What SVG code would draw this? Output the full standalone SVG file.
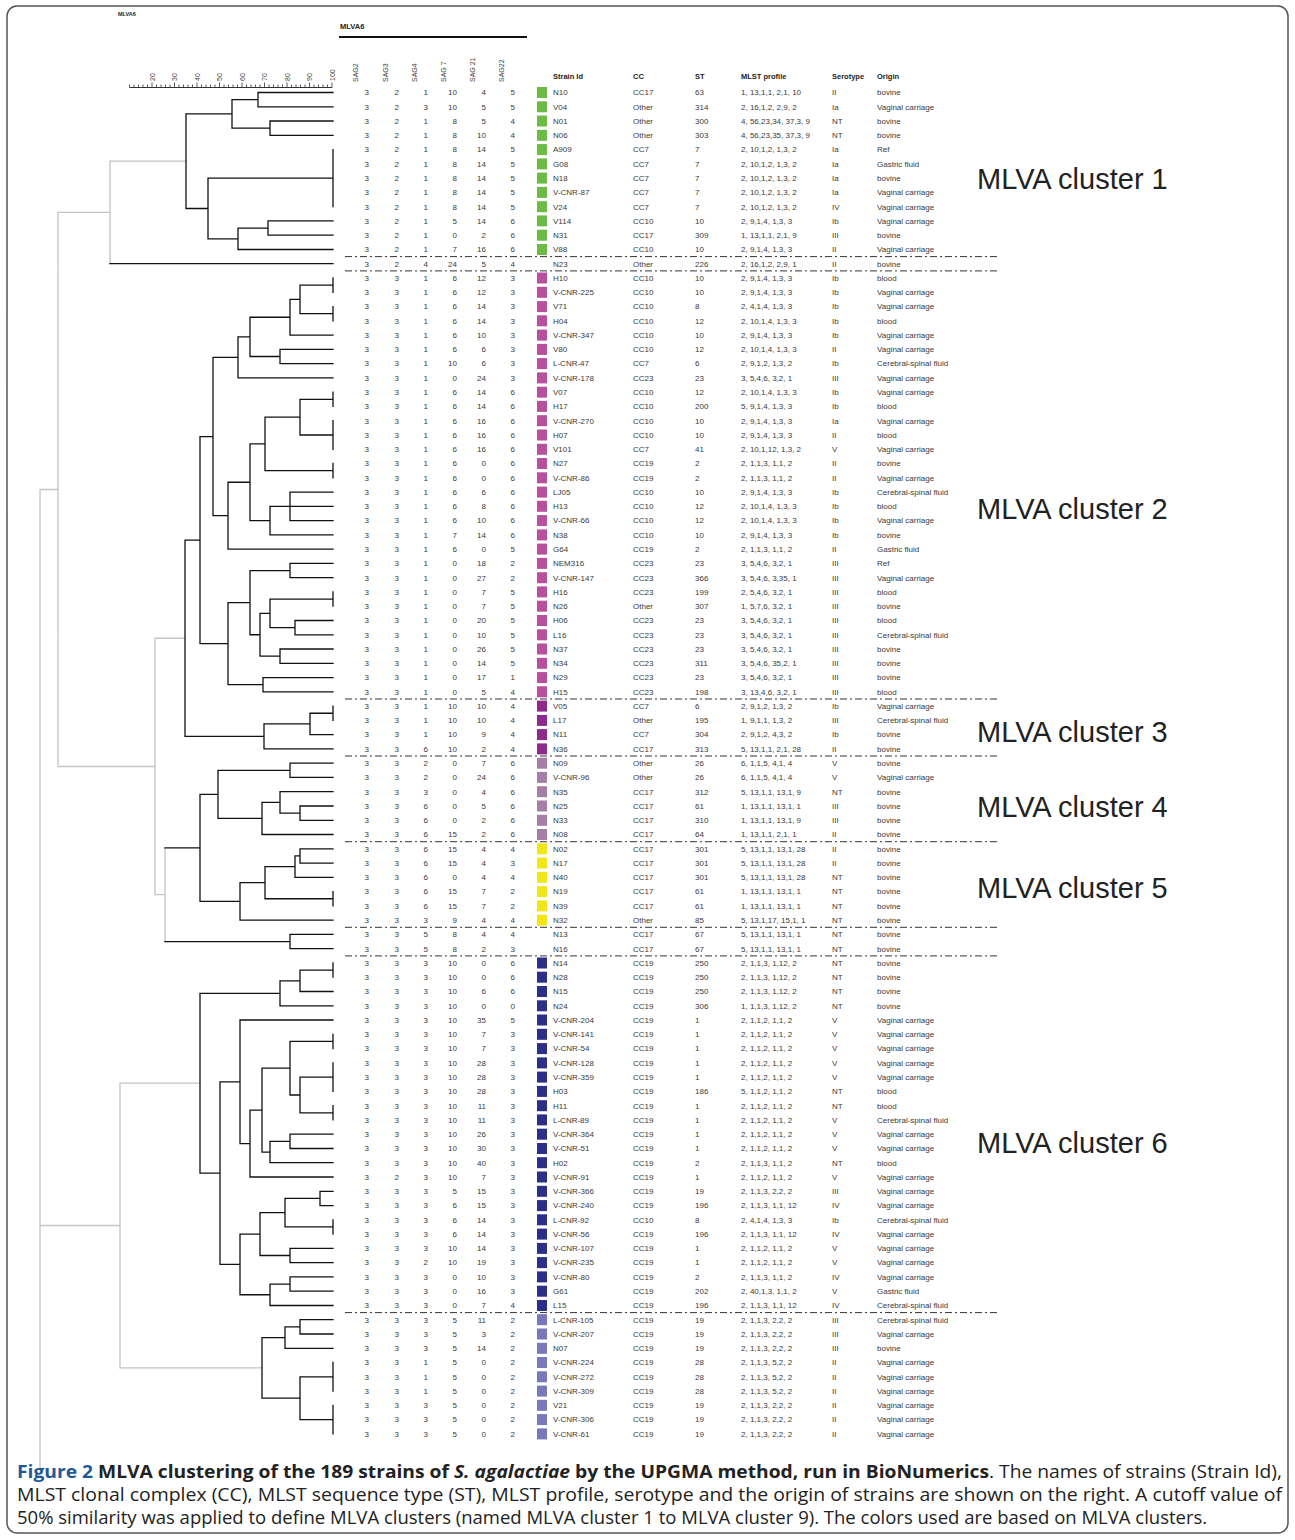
<svg xmlns="http://www.w3.org/2000/svg" width="1295" height="1540" viewBox="0 0 1295 1540">
<style>
.v{font-family:"Liberation Sans",Arial,sans-serif;font-size:8px;fill:#3a3a3a;text-anchor:end}
.d{font-family:"Liberation Sans",Arial,sans-serif;font-size:8px;fill:#3a3a3a}
.h{font-family:"Liberation Sans",Arial,sans-serif;font-size:7.5px;font-weight:bold;fill:#222}
.rh{font-family:"Liberation Sans",Arial,sans-serif;font-size:7px;fill:#444}
.ax{font-family:"Liberation Sans",Arial,sans-serif;font-size:7px;fill:#444}
.cl{font-family:"Liberation Sans",Arial,sans-serif;font-size:29px;fill:#222}
.cap{font-family:"Open Sans","Liberation Sans",sans-serif;font-size:18.5px;fill:#222}
.capb{font-weight:bold}
.c1{fill:#6cbb45}.c2{fill:#b8509e}.c3{fill:#8e2a8c}.c4{fill:#a57fa6}.c5{fill:#f1e618}.c6{fill:#2b2f88}.c7{fill:#7779bb}
.sep{stroke:#333;stroke-width:1;stroke-dasharray:7 3 2 3;fill:none}
.tb{stroke:#111;stroke-width:1.3;fill:none;stroke-linecap:square}
.tg{stroke:#c4c4c4;stroke-width:1.3;fill:none;stroke-linecap:square}
</style>
<rect x="7" y="6" width="1281" height="1527" rx="10" fill="none" stroke="#555" stroke-width="1.5"/>
<g id="header">
<text class="h" x="118" y="16" style="font-size:5.5px">MLVA6</text>
<text class="h" x="340" y="29">MLVA6</text>
<line x1="339" y1="37" x2="527" y2="37" stroke="#111" stroke-width="2"/>
<text class="rh" transform="translate(357.5,82) rotate(-90)">SAG2</text>
<text class="rh" transform="translate(387.5,82) rotate(-90)">SAG3</text>
<text class="rh" transform="translate(416.5,82) rotate(-90)">SAG4</text>
<text class="rh" transform="translate(445.5,82) rotate(-90)">SAG 7</text>
<text class="rh" transform="translate(474.5,82) rotate(-90)">SAG 21</text>
<text class="rh" transform="translate(503.5,82) rotate(-90)">SAG22</text>
<text class="h"><tspan x="553" y="79">Strain Id</tspan><tspan x="633" y="79">CC</tspan><tspan x="695" y="79">ST</tspan><tspan x="741" y="79">MLST profile</tspan><tspan x="832" y="79">Serotype</tspan><tspan x="877" y="79">Origin</tspan></text>
</g>
<g id="scale">
<path d="M129.5 87.5H332" stroke="#333" stroke-width="1" fill="none"/>
<path d="M129.5 87.5v-3M134 87.5v-3M138.5 87.5v-3M143 87.5v-3M147.5 87.5v-3M152 87.5v-5M156.5 87.5v-3M161 87.5v-3M165.5 87.5v-3M170 87.5v-3M174.5 87.5v-5M179 87.5v-3M183.5 87.5v-3M188 87.5v-3M192.5 87.5v-3M197 87.5v-5M201.5 87.5v-3M206 87.5v-3M210.5 87.5v-3M215 87.5v-3M219.5 87.5v-5M224 87.5v-3M228.5 87.5v-3M233 87.5v-3M237.5 87.5v-3M242 87.5v-5M246.5 87.5v-3M251 87.5v-3M255.5 87.5v-3M260 87.5v-3M264.5 87.5v-5M269 87.5v-3M273.5 87.5v-3M278 87.5v-3M282.5 87.5v-3M287 87.5v-5M291.5 87.5v-3M296 87.5v-3M300.5 87.5v-3M305 87.5v-3M309.5 87.5v-5M314 87.5v-3M318.5 87.5v-3M323 87.5v-3M327.5 87.5v-3M332 87.5v-5" stroke="#333" stroke-width="0.8" fill="none"/>
<text class="ax" transform="translate(154.5,81) rotate(-90)">20</text>
<text class="ax" transform="translate(177,81) rotate(-90)">30</text>
<text class="ax" transform="translate(199.5,81) rotate(-90)">40</text>
<text class="ax" transform="translate(222,81) rotate(-90)">50</text>
<text class="ax" transform="translate(244.5,81) rotate(-90)">60</text>
<text class="ax" transform="translate(267,81) rotate(-90)">70</text>
<text class="ax" transform="translate(289.5,81) rotate(-90)">80</text>
<text class="ax" transform="translate(312,81) rotate(-90)">90</text>
<text class="ax" transform="translate(334.5,81) rotate(-90)">100</text>
</g>
<g id="connectors">
<path class="tg" d="M110 161.2V263.7 M110 161.2H186 M155 638.25V894.7 M155 638.25H185 M155 894.7H165 M165 847.9V941.55 M58 212.45V766.5 M58 212.45H110 M58 766.5H155 M120 1083.2V1367.9 M120 1083.2H200 M120 1367.9H262 M40 489.5V1470 M40 489.5H58 M40 1225.5H120"/>
<path class="tb" d="M110 263.7H333
M258 92.5H333 M258 106.8H333 M258 92.5V106.8 M232 99.65H258
M270 121H333 M270 135.3H333 M270 121V135.3 M232 128.15H270
M232 99.65V128.15 M186 113.9H232
M333 149.6V206.7 M208 178.15H333
M268 220.9H333 M268 235.2H333 M268 220.9V235.2 M238 228.05H268
M238 249.5H333 M238 228.05V249.5 M208 238.8H238
M208 178.15V238.8 M186 208.5H208 M186 113.9V208.5
M333 278V292.3 M300 285.15H333 M333 306.6V320.8 M300 313.7H333
M300 285.15V313.7 M290 299.4H300 M290 299.4V335.1 M290 335.1H333 M250 317.25H290
M280 349.4V363.6 M280 349.4H333 M280 363.6H333 M250 356.5H280
M250 317.25V356.5 M238 336.9H250 M238 336.9V377.9 M238 377.9H333 M213 357.4H238
M333 392.2V406.4 M300 399.3H333 M333 420.7V449.3 M300 435H333
M300 399.3V435 M265 417.15H300 M333 463.5V477.8 M265 470.65H333
M265 417.15V470.65 M250 443.9H265
M290 492.1V520.6 M290 492.1H333 M290 506.3H333 M290 520.6H333 M270 506.35H290
M270 506.35V534.9 M270 534.9H333 M250 520.6H270
M250 443.9V520.6 M228 482.25H250 M228 482.25V549.1 M228 549.1H333 M213 515.7H228
M213 357.4V515.7 M200 436.55H213
M290 563.4V577.7 M290 563.4H333 M290 577.7H333 M250 570.55H290
M333 591.9V606.2 M270 599.05H333 M295 620.5V634.8 M295 620.5H333 M295 634.8H333 M270 627.65H295
M270 599.05V627.65 M260 613.35H270 M280 649V663.3 M280 649H333 M280 663.3H333 M260 656.15H280
M260 613.35V656.15 M250 634.75H260 M250 570.55V634.75 M228 602.65H250
M263 677.6V691.8 M263 677.6H333 M263 691.8H333 M228 684.7H263
M228 602.65V684.7 M200 643.7H228 M200 436.55V643.7 M185 540.1H200
M333 706.1V720.4 M310 713.25H333 M310 713.25V734.6 M310 734.6H333 M264 723.9H310
M264 723.9V748.9 M264 748.9H333 M185 736.4H264 M185 540.1V736.4
M290 763.2V777.4 M290 763.2H333 M290 777.4H333 M218 770.3H290
M300 806V820.3 M300 806H333 M300 820.3H333 M280 813.15H300
M280 791.7V813.15 M280 791.7H333 M262 802.4H280 M262 802.4V834.5 M262 834.5H333 M218 818.45H262
M218 770.3V818.45 M200 794.4H218
M300 848.8V863.1 M300 848.8H333 M300 863.1H333 M295 855.95H300 M295 855.95V877.3 M295 877.3H333 M265 866.6H295
M333 891.6V905.9 M265 898.75H333 M265 866.6V898.75 M240 882.7H265 M240 882.7V920.2 M240 920.2H333 M200 901.45H240
M200 794.4V901.45 M165 847.9H200
M290 934.4V948.7 M290 934.4H333 M290 948.7H333 M165 941.55H290
M333 963V977.2 M300 970.1H333 M300 970.1V991.5 M300 991.5H333 M280 980.8H300
M280 980.8V1005.8 M280 1005.8H333 M200 993.3H280
M333 1034.3V1048.6 M290 1041.45H333 M333 1062.9V1091.4 M300 1077.15H333 M333 1105.7V1119.9 M300 1112.8H333
M300 1077.15V1112.8 M290 1095H300 M290 1041.45V1095 M262 1068.2H290
M290 1134.2V1148.5 M290 1134.2H333 M290 1148.5H333 M270 1141.35H290 M270 1141.35V1162.7 M270 1162.7H333 M262 1152.05H270
M262 1068.2V1152.05 M250 1110.1H262 M250 1110.1V1177 M250 1177H333 M240 1143.55H250
M240 1020V1143.55 M240 1020H333 M220 1081.8H240
M320 1191.3V1205.6 M320 1191.3H333 M320 1205.6H333 M285 1198.45H320 M333 1219.8V1234.1 M285 1226.95H333
M285 1198.45V1226.95 M260 1212.7H285 M290 1248.4V1262.6 M290 1248.4H333 M290 1262.6H333 M260 1255.5H290
M260 1212.7V1255.5 M240 1234.1H260 M290 1276.9V1291.2 M290 1276.9H333 M290 1291.2H333 M270 1284.05H290
M270 1284.05V1305.5 M270 1305.5H333 M240 1294.75H270 M240 1234.1V1294.75 M220 1264.4H240
M220 1081.8V1264.4 M200 1173.1H220 M200 993.3V1173.1
M300 1319.7V1334 M300 1319.7H333 M300 1334H333 M285 1326.85H300 M285 1326.85V1348.3 M285 1348.3H333 M262 1337.6H285
M333 1362.5V1391.1 M300 1376.8H333 M333 1405.3V1433.9 M300 1419.6H333 M300 1376.8V1419.6 M262 1398.2H300
M262 1337.6V1398.2"/>
<path class="sep" d="M345 256.6H1000 M345 270.9H1000 M345 699H1000 M345 756H1000 M345 841.7H1000 M345 927.3H1000 M345 955.9H1000 M345 1312.6H1000"/>
</g>
<g id="clusters">
<text class="cl" x="977" y="189">MLVA cluster 1</text>
<text class="cl" x="977" y="519">MLVA cluster 2</text>
<text class="cl" x="977" y="742">MLVA cluster 3</text>
<text class="cl" x="977" y="817">MLVA cluster 4</text>
<text class="cl" x="977" y="898">MLVA cluster 5</text>
<text class="cl" x="977" y="1153">MLVA cluster 6</text>
</g>
<g id="rows">
<g id="row-N10" transform="translate(0,92.5)"><rect class="c1" x="537" y="-5.5" width="10" height="11"/><text class="v" y="2.8"><tspan x="369">3</tspan><tspan x="399">2</tspan><tspan x="428">1</tspan><tspan x="457">10</tspan><tspan x="486">4</tspan><tspan x="515">5</tspan></text><text class="d" y="2.8"><tspan x="553">N10</tspan><tspan x="633">CC17</tspan><tspan x="695">63</tspan><tspan x="741">1, 13,1,1, 2,1, 10</tspan><tspan x="832">II</tspan><tspan x="877">bovine</tspan></text></g>
<g id="row-V04" transform="translate(0,106.8)"><rect class="c1" x="537" y="-5.5" width="10" height="11"/><text class="v" y="2.8"><tspan x="369">3</tspan><tspan x="399">2</tspan><tspan x="428">3</tspan><tspan x="457">10</tspan><tspan x="486">5</tspan><tspan x="515">5</tspan></text><text class="d" y="2.8"><tspan x="553">V04</tspan><tspan x="633">Other</tspan><tspan x="695">314</tspan><tspan x="741">2, 16,1,2, 2,9, 2</tspan><tspan x="832">Ia</tspan><tspan x="877">Vaginal carriage</tspan></text></g>
<g id="row-N01" transform="translate(0,121)"><rect class="c1" x="537" y="-5.5" width="10" height="11"/><text class="v" y="2.8"><tspan x="369">3</tspan><tspan x="399">2</tspan><tspan x="428">1</tspan><tspan x="457">8</tspan><tspan x="486">5</tspan><tspan x="515">4</tspan></text><text class="d" y="2.8"><tspan x="553">N01</tspan><tspan x="633">Other</tspan><tspan x="695">300</tspan><tspan x="741">4, 56,23,34, 37,3, 9</tspan><tspan x="832">NT</tspan><tspan x="877">bovine</tspan></text></g>
<g id="row-N06" transform="translate(0,135.3)"><rect class="c1" x="537" y="-5.5" width="10" height="11"/><text class="v" y="2.8"><tspan x="369">3</tspan><tspan x="399">2</tspan><tspan x="428">1</tspan><tspan x="457">8</tspan><tspan x="486">10</tspan><tspan x="515">4</tspan></text><text class="d" y="2.8"><tspan x="553">N06</tspan><tspan x="633">Other</tspan><tspan x="695">303</tspan><tspan x="741">4, 56,23,35, 37,3, 9</tspan><tspan x="832">NT</tspan><tspan x="877">bovine</tspan></text></g>
<g id="row-A909" transform="translate(0,149.6)"><rect class="c1" x="537" y="-5.5" width="10" height="11"/><text class="v" y="2.8"><tspan x="369">3</tspan><tspan x="399">2</tspan><tspan x="428">1</tspan><tspan x="457">8</tspan><tspan x="486">14</tspan><tspan x="515">5</tspan></text><text class="d" y="2.8"><tspan x="553">A909</tspan><tspan x="633">CC7</tspan><tspan x="695">7</tspan><tspan x="741">2, 10,1,2, 1,3, 2</tspan><tspan x="832">Ia</tspan><tspan x="877">Ref</tspan></text></g>
<g id="row-G08" transform="translate(0,163.9)"><rect class="c1" x="537" y="-5.5" width="10" height="11"/><text class="v" y="2.8"><tspan x="369">3</tspan><tspan x="399">2</tspan><tspan x="428">1</tspan><tspan x="457">8</tspan><tspan x="486">14</tspan><tspan x="515">5</tspan></text><text class="d" y="2.8"><tspan x="553">G08</tspan><tspan x="633">CC7</tspan><tspan x="695">7</tspan><tspan x="741">2, 10,1,2, 1,3, 2</tspan><tspan x="832">Ia</tspan><tspan x="877">Gastric fluid</tspan></text></g>
<g id="row-N18" transform="translate(0,178.1)"><rect class="c1" x="537" y="-5.5" width="10" height="11"/><text class="v" y="2.8"><tspan x="369">3</tspan><tspan x="399">2</tspan><tspan x="428">1</tspan><tspan x="457">8</tspan><tspan x="486">14</tspan><tspan x="515">5</tspan></text><text class="d" y="2.8"><tspan x="553">N18</tspan><tspan x="633">CC7</tspan><tspan x="695">7</tspan><tspan x="741">2, 10,1,2, 1,3, 2</tspan><tspan x="832">Ia</tspan><tspan x="877">bovine</tspan></text></g>
<g id="row-V-CNR-87" transform="translate(0,192.4)"><rect class="c1" x="537" y="-5.5" width="10" height="11"/><text class="v" y="2.8"><tspan x="369">3</tspan><tspan x="399">2</tspan><tspan x="428">1</tspan><tspan x="457">8</tspan><tspan x="486">14</tspan><tspan x="515">5</tspan></text><text class="d" y="2.8"><tspan x="553">V-CNR-87</tspan><tspan x="633">CC7</tspan><tspan x="695">7</tspan><tspan x="741">2, 10,1,2, 1,3, 2</tspan><tspan x="832">Ia</tspan><tspan x="877">Vaginal carriage</tspan></text></g>
<g id="row-V24" transform="translate(0,206.7)"><rect class="c1" x="537" y="-5.5" width="10" height="11"/><text class="v" y="2.8"><tspan x="369">3</tspan><tspan x="399">2</tspan><tspan x="428">1</tspan><tspan x="457">8</tspan><tspan x="486">14</tspan><tspan x="515">5</tspan></text><text class="d" y="2.8"><tspan x="553">V24</tspan><tspan x="633">CC7</tspan><tspan x="695">7</tspan><tspan x="741">2, 10,1,2, 1,3, 2</tspan><tspan x="832">IV</tspan><tspan x="877">Vaginal carriage</tspan></text></g>
<g id="row-V114" transform="translate(0,220.9)"><rect class="c1" x="537" y="-5.5" width="10" height="11"/><text class="v" y="2.8"><tspan x="369">3</tspan><tspan x="399">2</tspan><tspan x="428">1</tspan><tspan x="457">5</tspan><tspan x="486">14</tspan><tspan x="515">6</tspan></text><text class="d" y="2.8"><tspan x="553">V114</tspan><tspan x="633">CC10</tspan><tspan x="695">10</tspan><tspan x="741">2, 9,1,4, 1,3, 3</tspan><tspan x="832">Ib</tspan><tspan x="877">Vaginal carriage</tspan></text></g>
<g id="row-N31" transform="translate(0,235.2)"><rect class="c1" x="537" y="-5.5" width="10" height="11"/><text class="v" y="2.8"><tspan x="369">3</tspan><tspan x="399">2</tspan><tspan x="428">1</tspan><tspan x="457">0</tspan><tspan x="486">2</tspan><tspan x="515">6</tspan></text><text class="d" y="2.8"><tspan x="553">N31</tspan><tspan x="633">CC17</tspan><tspan x="695">309</tspan><tspan x="741">1, 13,1,1, 2,1, 9</tspan><tspan x="832">III</tspan><tspan x="877">bovine</tspan></text></g>
<g id="row-V88" transform="translate(0,249.5)"><rect class="c1" x="537" y="-5.5" width="10" height="11"/><text class="v" y="2.8"><tspan x="369">3</tspan><tspan x="399">2</tspan><tspan x="428">1</tspan><tspan x="457">7</tspan><tspan x="486">16</tspan><tspan x="515">6</tspan></text><text class="d" y="2.8"><tspan x="553">V88</tspan><tspan x="633">CC10</tspan><tspan x="695">10</tspan><tspan x="741">2, 9,1,4, 1,3, 3</tspan><tspan x="832">II</tspan><tspan x="877">Vaginal carriage</tspan></text></g>
<g id="row-N23" transform="translate(0,263.7)"><text class="v" y="2.8"><tspan x="369">3</tspan><tspan x="399">2</tspan><tspan x="428">4</tspan><tspan x="457">24</tspan><tspan x="486">5</tspan><tspan x="515">4</tspan></text><text class="d" y="2.8"><tspan x="553">N23</tspan><tspan x="633">Other</tspan><tspan x="695">226</tspan><tspan x="741">2, 16,1,2, 2,9, 1</tspan><tspan x="832">II</tspan><tspan x="877">bovine</tspan></text></g>
<g id="row-H10" transform="translate(0,278)"><rect class="c2" x="537" y="-5.5" width="10" height="11"/><text class="v" y="2.8"><tspan x="369">3</tspan><tspan x="399">3</tspan><tspan x="428">1</tspan><tspan x="457">6</tspan><tspan x="486">12</tspan><tspan x="515">3</tspan></text><text class="d" y="2.8"><tspan x="553">H10</tspan><tspan x="633">CC10</tspan><tspan x="695">10</tspan><tspan x="741">2, 9,1,4, 1,3, 3</tspan><tspan x="832">Ib</tspan><tspan x="877">blood</tspan></text></g>
<g id="row-V-CNR-225" transform="translate(0,292.3)"><rect class="c2" x="537" y="-5.5" width="10" height="11"/><text class="v" y="2.8"><tspan x="369">3</tspan><tspan x="399">3</tspan><tspan x="428">1</tspan><tspan x="457">6</tspan><tspan x="486">12</tspan><tspan x="515">3</tspan></text><text class="d" y="2.8"><tspan x="553">V-CNR-225</tspan><tspan x="633">CC10</tspan><tspan x="695">10</tspan><tspan x="741">2, 9,1,4, 1,3, 3</tspan><tspan x="832">Ib</tspan><tspan x="877">Vaginal carriage</tspan></text></g>
<g id="row-V71" transform="translate(0,306.6)"><rect class="c2" x="537" y="-5.5" width="10" height="11"/><text class="v" y="2.8"><tspan x="369">3</tspan><tspan x="399">3</tspan><tspan x="428">1</tspan><tspan x="457">6</tspan><tspan x="486">14</tspan><tspan x="515">3</tspan></text><text class="d" y="2.8"><tspan x="553">V71</tspan><tspan x="633">CC10</tspan><tspan x="695">8</tspan><tspan x="741">2, 4,1,4, 1,3, 3</tspan><tspan x="832">Ib</tspan><tspan x="877">Vaginal carriage</tspan></text></g>
<g id="row-H04" transform="translate(0,320.8)"><rect class="c2" x="537" y="-5.5" width="10" height="11"/><text class="v" y="2.8"><tspan x="369">3</tspan><tspan x="399">3</tspan><tspan x="428">1</tspan><tspan x="457">6</tspan><tspan x="486">14</tspan><tspan x="515">3</tspan></text><text class="d" y="2.8"><tspan x="553">H04</tspan><tspan x="633">CC10</tspan><tspan x="695">12</tspan><tspan x="741">2, 10,1,4, 1,3, 3</tspan><tspan x="832">Ib</tspan><tspan x="877">blood</tspan></text></g>
<g id="row-V-CNR-347" transform="translate(0,335.1)"><rect class="c2" x="537" y="-5.5" width="10" height="11"/><text class="v" y="2.8"><tspan x="369">3</tspan><tspan x="399">3</tspan><tspan x="428">1</tspan><tspan x="457">6</tspan><tspan x="486">10</tspan><tspan x="515">3</tspan></text><text class="d" y="2.8"><tspan x="553">V-CNR-347</tspan><tspan x="633">CC10</tspan><tspan x="695">10</tspan><tspan x="741">2, 9,1,4, 1,3, 3</tspan><tspan x="832">Ib</tspan><tspan x="877">Vaginal carriage</tspan></text></g>
<g id="row-V80" transform="translate(0,349.4)"><rect class="c2" x="537" y="-5.5" width="10" height="11"/><text class="v" y="2.8"><tspan x="369">3</tspan><tspan x="399">3</tspan><tspan x="428">1</tspan><tspan x="457">6</tspan><tspan x="486">6</tspan><tspan x="515">3</tspan></text><text class="d" y="2.8"><tspan x="553">V80</tspan><tspan x="633">CC10</tspan><tspan x="695">12</tspan><tspan x="741">2, 10,1,4, 1,3, 3</tspan><tspan x="832">II</tspan><tspan x="877">Vaginal carriage</tspan></text></g>
<g id="row-L-CNR-47" transform="translate(0,363.6)"><rect class="c2" x="537" y="-5.5" width="10" height="11"/><text class="v" y="2.8"><tspan x="369">3</tspan><tspan x="399">3</tspan><tspan x="428">1</tspan><tspan x="457">10</tspan><tspan x="486">6</tspan><tspan x="515">3</tspan></text><text class="d" y="2.8"><tspan x="553">L-CNR-47</tspan><tspan x="633">CC7</tspan><tspan x="695">6</tspan><tspan x="741">2, 9,1,2, 1,3, 2</tspan><tspan x="832">Ib</tspan><tspan x="877">Cerebral-spinal fluid</tspan></text></g>
<g id="row-V-CNR-178" transform="translate(0,377.9)"><rect class="c2" x="537" y="-5.5" width="10" height="11"/><text class="v" y="2.8"><tspan x="369">3</tspan><tspan x="399">3</tspan><tspan x="428">1</tspan><tspan x="457">0</tspan><tspan x="486">24</tspan><tspan x="515">3</tspan></text><text class="d" y="2.8"><tspan x="553">V-CNR-178</tspan><tspan x="633">CC23</tspan><tspan x="695">23</tspan><tspan x="741">3, 5,4,6, 3,2, 1</tspan><tspan x="832">III</tspan><tspan x="877">Vaginal carriage</tspan></text></g>
<g id="row-V07" transform="translate(0,392.2)"><rect class="c2" x="537" y="-5.5" width="10" height="11"/><text class="v" y="2.8"><tspan x="369">3</tspan><tspan x="399">3</tspan><tspan x="428">1</tspan><tspan x="457">6</tspan><tspan x="486">14</tspan><tspan x="515">6</tspan></text><text class="d" y="2.8"><tspan x="553">V07</tspan><tspan x="633">CC10</tspan><tspan x="695">12</tspan><tspan x="741">2, 10,1,4, 1,3, 3</tspan><tspan x="832">Ib</tspan><tspan x="877">Vaginal carriage</tspan></text></g>
<g id="row-H17" transform="translate(0,406.4)"><rect class="c2" x="537" y="-5.5" width="10" height="11"/><text class="v" y="2.8"><tspan x="369">3</tspan><tspan x="399">3</tspan><tspan x="428">1</tspan><tspan x="457">6</tspan><tspan x="486">14</tspan><tspan x="515">6</tspan></text><text class="d" y="2.8"><tspan x="553">H17</tspan><tspan x="633">CC10</tspan><tspan x="695">200</tspan><tspan x="741">5, 9,1,4, 1,3, 3</tspan><tspan x="832">Ib</tspan><tspan x="877">blood</tspan></text></g>
<g id="row-V-CNR-270" transform="translate(0,420.7)"><rect class="c2" x="537" y="-5.5" width="10" height="11"/><text class="v" y="2.8"><tspan x="369">3</tspan><tspan x="399">3</tspan><tspan x="428">1</tspan><tspan x="457">6</tspan><tspan x="486">16</tspan><tspan x="515">6</tspan></text><text class="d" y="2.8"><tspan x="553">V-CNR-270</tspan><tspan x="633">CC10</tspan><tspan x="695">10</tspan><tspan x="741">2, 9,1,4, 1,3, 3</tspan><tspan x="832">Ia</tspan><tspan x="877">Vaginal carriage</tspan></text></g>
<g id="row-H07" transform="translate(0,435)"><rect class="c2" x="537" y="-5.5" width="10" height="11"/><text class="v" y="2.8"><tspan x="369">3</tspan><tspan x="399">3</tspan><tspan x="428">1</tspan><tspan x="457">6</tspan><tspan x="486">16</tspan><tspan x="515">6</tspan></text><text class="d" y="2.8"><tspan x="553">H07</tspan><tspan x="633">CC10</tspan><tspan x="695">10</tspan><tspan x="741">2, 9,1,4, 1,3, 3</tspan><tspan x="832">II</tspan><tspan x="877">blood</tspan></text></g>
<g id="row-V101" transform="translate(0,449.3)"><rect class="c2" x="537" y="-5.5" width="10" height="11"/><text class="v" y="2.8"><tspan x="369">3</tspan><tspan x="399">3</tspan><tspan x="428">1</tspan><tspan x="457">6</tspan><tspan x="486">16</tspan><tspan x="515">6</tspan></text><text class="d" y="2.8"><tspan x="553">V101</tspan><tspan x="633">CC7</tspan><tspan x="695">41</tspan><tspan x="741">2, 10,1,12, 1,3, 2</tspan><tspan x="832">V</tspan><tspan x="877">Vaginal carriage</tspan></text></g>
<g id="row-N27" transform="translate(0,463.5)"><rect class="c2" x="537" y="-5.5" width="10" height="11"/><text class="v" y="2.8"><tspan x="369">3</tspan><tspan x="399">3</tspan><tspan x="428">1</tspan><tspan x="457">6</tspan><tspan x="486">0</tspan><tspan x="515">6</tspan></text><text class="d" y="2.8"><tspan x="553">N27</tspan><tspan x="633">CC19</tspan><tspan x="695">2</tspan><tspan x="741">2, 1,1,3, 1,1, 2</tspan><tspan x="832">II</tspan><tspan x="877">bovine</tspan></text></g>
<g id="row-V-CNR-86" transform="translate(0,477.8)"><rect class="c2" x="537" y="-5.5" width="10" height="11"/><text class="v" y="2.8"><tspan x="369">3</tspan><tspan x="399">3</tspan><tspan x="428">1</tspan><tspan x="457">6</tspan><tspan x="486">0</tspan><tspan x="515">6</tspan></text><text class="d" y="2.8"><tspan x="553">V-CNR-86</tspan><tspan x="633">CC19</tspan><tspan x="695">2</tspan><tspan x="741">2, 1,1,3, 1,1, 2</tspan><tspan x="832">II</tspan><tspan x="877">Vaginal carriage</tspan></text></g>
<g id="row-LJ05" transform="translate(0,492.1)"><rect class="c2" x="537" y="-5.5" width="10" height="11"/><text class="v" y="2.8"><tspan x="369">3</tspan><tspan x="399">3</tspan><tspan x="428">1</tspan><tspan x="457">6</tspan><tspan x="486">6</tspan><tspan x="515">6</tspan></text><text class="d" y="2.8"><tspan x="553">LJ05</tspan><tspan x="633">CC10</tspan><tspan x="695">10</tspan><tspan x="741">2, 9,1,4, 1,3, 3</tspan><tspan x="832">Ib</tspan><tspan x="877">Cerebral-spinal fluid</tspan></text></g>
<g id="row-H13" transform="translate(0,506.3)"><rect class="c2" x="537" y="-5.5" width="10" height="11"/><text class="v" y="2.8"><tspan x="369">3</tspan><tspan x="399">3</tspan><tspan x="428">1</tspan><tspan x="457">6</tspan><tspan x="486">8</tspan><tspan x="515">6</tspan></text><text class="d" y="2.8"><tspan x="553">H13</tspan><tspan x="633">CC10</tspan><tspan x="695">12</tspan><tspan x="741">2, 10,1,4, 1,3, 3</tspan><tspan x="832">Ib</tspan><tspan x="877">blood</tspan></text></g>
<g id="row-V-CNR-66" transform="translate(0,520.6)"><rect class="c2" x="537" y="-5.5" width="10" height="11"/><text class="v" y="2.8"><tspan x="369">3</tspan><tspan x="399">3</tspan><tspan x="428">1</tspan><tspan x="457">6</tspan><tspan x="486">10</tspan><tspan x="515">6</tspan></text><text class="d" y="2.8"><tspan x="553">V-CNR-66</tspan><tspan x="633">CC10</tspan><tspan x="695">12</tspan><tspan x="741">2, 10,1,4, 1,3, 3</tspan><tspan x="832">Ib</tspan><tspan x="877">Vaginal carriage</tspan></text></g>
<g id="row-N38" transform="translate(0,534.9)"><rect class="c2" x="537" y="-5.5" width="10" height="11"/><text class="v" y="2.8"><tspan x="369">3</tspan><tspan x="399">3</tspan><tspan x="428">1</tspan><tspan x="457">7</tspan><tspan x="486">14</tspan><tspan x="515">6</tspan></text><text class="d" y="2.8"><tspan x="553">N38</tspan><tspan x="633">CC10</tspan><tspan x="695">10</tspan><tspan x="741">2, 9,1,4, 1,3, 3</tspan><tspan x="832">Ib</tspan><tspan x="877">bovine</tspan></text></g>
<g id="row-G64" transform="translate(0,549.1)"><rect class="c2" x="537" y="-5.5" width="10" height="11"/><text class="v" y="2.8"><tspan x="369">3</tspan><tspan x="399">3</tspan><tspan x="428">1</tspan><tspan x="457">6</tspan><tspan x="486">0</tspan><tspan x="515">5</tspan></text><text class="d" y="2.8"><tspan x="553">G64</tspan><tspan x="633">CC19</tspan><tspan x="695">2</tspan><tspan x="741">2, 1,1,3, 1,1, 2</tspan><tspan x="832">II</tspan><tspan x="877">Gastric fluid</tspan></text></g>
<g id="row-NEM316" transform="translate(0,563.4)"><rect class="c2" x="537" y="-5.5" width="10" height="11"/><text class="v" y="2.8"><tspan x="369">3</tspan><tspan x="399">3</tspan><tspan x="428">1</tspan><tspan x="457">0</tspan><tspan x="486">18</tspan><tspan x="515">2</tspan></text><text class="d" y="2.8"><tspan x="553">NEM316</tspan><tspan x="633">CC23</tspan><tspan x="695">23</tspan><tspan x="741">3, 5,4,6, 3,2, 1</tspan><tspan x="832">III</tspan><tspan x="877">Ref</tspan></text></g>
<g id="row-V-CNR-147" transform="translate(0,577.7)"><rect class="c2" x="537" y="-5.5" width="10" height="11"/><text class="v" y="2.8"><tspan x="369">3</tspan><tspan x="399">3</tspan><tspan x="428">1</tspan><tspan x="457">0</tspan><tspan x="486">27</tspan><tspan x="515">2</tspan></text><text class="d" y="2.8"><tspan x="553">V-CNR-147</tspan><tspan x="633">CC23</tspan><tspan x="695">366</tspan><tspan x="741">3, 5,4,6, 3,35, 1</tspan><tspan x="832">III</tspan><tspan x="877">Vaginal carriage</tspan></text></g>
<g id="row-H16" transform="translate(0,591.9)"><rect class="c2" x="537" y="-5.5" width="10" height="11"/><text class="v" y="2.8"><tspan x="369">3</tspan><tspan x="399">3</tspan><tspan x="428">1</tspan><tspan x="457">0</tspan><tspan x="486">7</tspan><tspan x="515">5</tspan></text><text class="d" y="2.8"><tspan x="553">H16</tspan><tspan x="633">CC23</tspan><tspan x="695">199</tspan><tspan x="741">2, 5,4,6, 3,2, 1</tspan><tspan x="832">III</tspan><tspan x="877">blood</tspan></text></g>
<g id="row-N26" transform="translate(0,606.2)"><rect class="c2" x="537" y="-5.5" width="10" height="11"/><text class="v" y="2.8"><tspan x="369">3</tspan><tspan x="399">3</tspan><tspan x="428">1</tspan><tspan x="457">0</tspan><tspan x="486">7</tspan><tspan x="515">5</tspan></text><text class="d" y="2.8"><tspan x="553">N26</tspan><tspan x="633">Other</tspan><tspan x="695">307</tspan><tspan x="741">1, 5,7,6, 3,2, 1</tspan><tspan x="832">III</tspan><tspan x="877">bovine</tspan></text></g>
<g id="row-H06" transform="translate(0,620.5)"><rect class="c2" x="537" y="-5.5" width="10" height="11"/><text class="v" y="2.8"><tspan x="369">3</tspan><tspan x="399">3</tspan><tspan x="428">1</tspan><tspan x="457">0</tspan><tspan x="486">20</tspan><tspan x="515">5</tspan></text><text class="d" y="2.8"><tspan x="553">H06</tspan><tspan x="633">CC23</tspan><tspan x="695">23</tspan><tspan x="741">3, 5,4,6, 3,2, 1</tspan><tspan x="832">III</tspan><tspan x="877">blood</tspan></text></g>
<g id="row-L16" transform="translate(0,634.8)"><rect class="c2" x="537" y="-5.5" width="10" height="11"/><text class="v" y="2.8"><tspan x="369">3</tspan><tspan x="399">3</tspan><tspan x="428">1</tspan><tspan x="457">0</tspan><tspan x="486">10</tspan><tspan x="515">5</tspan></text><text class="d" y="2.8"><tspan x="553">L16</tspan><tspan x="633">CC23</tspan><tspan x="695">23</tspan><tspan x="741">3, 5,4,6, 3,2, 1</tspan><tspan x="832">III</tspan><tspan x="877">Cerebral-spinal fluid</tspan></text></g>
<g id="row-N37" transform="translate(0,649)"><rect class="c2" x="537" y="-5.5" width="10" height="11"/><text class="v" y="2.8"><tspan x="369">3</tspan><tspan x="399">3</tspan><tspan x="428">1</tspan><tspan x="457">0</tspan><tspan x="486">26</tspan><tspan x="515">5</tspan></text><text class="d" y="2.8"><tspan x="553">N37</tspan><tspan x="633">CC23</tspan><tspan x="695">23</tspan><tspan x="741">3, 5,4,6, 3,2, 1</tspan><tspan x="832">III</tspan><tspan x="877">bovine</tspan></text></g>
<g id="row-N34" transform="translate(0,663.3)"><rect class="c2" x="537" y="-5.5" width="10" height="11"/><text class="v" y="2.8"><tspan x="369">3</tspan><tspan x="399">3</tspan><tspan x="428">1</tspan><tspan x="457">0</tspan><tspan x="486">14</tspan><tspan x="515">5</tspan></text><text class="d" y="2.8"><tspan x="553">N34</tspan><tspan x="633">CC23</tspan><tspan x="695">311</tspan><tspan x="741">3, 5,4,6, 35,2, 1</tspan><tspan x="832">III</tspan><tspan x="877">bovine</tspan></text></g>
<g id="row-N29" transform="translate(0,677.6)"><rect class="c2" x="537" y="-5.5" width="10" height="11"/><text class="v" y="2.8"><tspan x="369">3</tspan><tspan x="399">3</tspan><tspan x="428">1</tspan><tspan x="457">0</tspan><tspan x="486">17</tspan><tspan x="515">1</tspan></text><text class="d" y="2.8"><tspan x="553">N29</tspan><tspan x="633">CC23</tspan><tspan x="695">23</tspan><tspan x="741">3, 5,4,6, 3,2, 1</tspan><tspan x="832">III</tspan><tspan x="877">bovine</tspan></text></g>
<g id="row-H15" transform="translate(0,691.8)"><rect class="c2" x="537" y="-5.5" width="10" height="11"/><text class="v" y="2.8"><tspan x="369">3</tspan><tspan x="399">3</tspan><tspan x="428">1</tspan><tspan x="457">0</tspan><tspan x="486">5</tspan><tspan x="515">4</tspan></text><text class="d" y="2.8"><tspan x="553">H15</tspan><tspan x="633">CC23</tspan><tspan x="695">198</tspan><tspan x="741">3, 13,4,6, 3,2, 1</tspan><tspan x="832">III</tspan><tspan x="877">blood</tspan></text></g>
<g id="row-V05" transform="translate(0,706.1)"><rect class="c3" x="537" y="-5.5" width="10" height="11"/><text class="v" y="2.8"><tspan x="369">3</tspan><tspan x="399">3</tspan><tspan x="428">1</tspan><tspan x="457">10</tspan><tspan x="486">10</tspan><tspan x="515">4</tspan></text><text class="d" y="2.8"><tspan x="553">V05</tspan><tspan x="633">CC7</tspan><tspan x="695">6</tspan><tspan x="741">2, 9,1,2, 1,3, 2</tspan><tspan x="832">Ib</tspan><tspan x="877">Vaginal carriage</tspan></text></g>
<g id="row-L17" transform="translate(0,720.4)"><rect class="c3" x="537" y="-5.5" width="10" height="11"/><text class="v" y="2.8"><tspan x="369">3</tspan><tspan x="399">3</tspan><tspan x="428">1</tspan><tspan x="457">10</tspan><tspan x="486">10</tspan><tspan x="515">4</tspan></text><text class="d" y="2.8"><tspan x="553">L17</tspan><tspan x="633">Other</tspan><tspan x="695">195</tspan><tspan x="741">1, 9,1,1, 1,3, 2</tspan><tspan x="832">III</tspan><tspan x="877">Cerebral-spinal fluid</tspan></text></g>
<g id="row-N11" transform="translate(0,734.6)"><rect class="c3" x="537" y="-5.5" width="10" height="11"/><text class="v" y="2.8"><tspan x="369">3</tspan><tspan x="399">3</tspan><tspan x="428">1</tspan><tspan x="457">10</tspan><tspan x="486">9</tspan><tspan x="515">4</tspan></text><text class="d" y="2.8"><tspan x="553">N11</tspan><tspan x="633">CC7</tspan><tspan x="695">304</tspan><tspan x="741">2, 9,1,2, 4,3, 2</tspan><tspan x="832">Ib</tspan><tspan x="877">bovine</tspan></text></g>
<g id="row-N36" transform="translate(0,748.9)"><rect class="c3" x="537" y="-5.5" width="10" height="11"/><text class="v" y="2.8"><tspan x="369">3</tspan><tspan x="399">3</tspan><tspan x="428">6</tspan><tspan x="457">10</tspan><tspan x="486">2</tspan><tspan x="515">4</tspan></text><text class="d" y="2.8"><tspan x="553">N36</tspan><tspan x="633">CC17</tspan><tspan x="695">313</tspan><tspan x="741">5, 13,1,1, 2,1, 28</tspan><tspan x="832">II</tspan><tspan x="877">bovine</tspan></text></g>
<g id="row-N09" transform="translate(0,763.2)"><rect class="c4" x="537" y="-5.5" width="10" height="11"/><text class="v" y="2.8"><tspan x="369">3</tspan><tspan x="399">3</tspan><tspan x="428">2</tspan><tspan x="457">0</tspan><tspan x="486">7</tspan><tspan x="515">6</tspan></text><text class="d" y="2.8"><tspan x="553">N09</tspan><tspan x="633">Other</tspan><tspan x="695">26</tspan><tspan x="741">6, 1,1,5, 4,1, 4</tspan><tspan x="832">V</tspan><tspan x="877">bovine</tspan></text></g>
<g id="row-V-CNR-96" transform="translate(0,777.4)"><rect class="c4" x="537" y="-5.5" width="10" height="11"/><text class="v" y="2.8"><tspan x="369">3</tspan><tspan x="399">3</tspan><tspan x="428">2</tspan><tspan x="457">0</tspan><tspan x="486">24</tspan><tspan x="515">6</tspan></text><text class="d" y="2.8"><tspan x="553">V-CNR-96</tspan><tspan x="633">Other</tspan><tspan x="695">26</tspan><tspan x="741">6, 1,1,5, 4,1, 4</tspan><tspan x="832">V</tspan><tspan x="877">Vaginal carriage</tspan></text></g>
<g id="row-N35" transform="translate(0,791.7)"><rect class="c4" x="537" y="-5.5" width="10" height="11"/><text class="v" y="2.8"><tspan x="369">3</tspan><tspan x="399">3</tspan><tspan x="428">3</tspan><tspan x="457">0</tspan><tspan x="486">4</tspan><tspan x="515">6</tspan></text><text class="d" y="2.8"><tspan x="553">N35</tspan><tspan x="633">CC17</tspan><tspan x="695">312</tspan><tspan x="741">5, 13,1,1, 13,1, 9</tspan><tspan x="832">NT</tspan><tspan x="877">bovine</tspan></text></g>
<g id="row-N25" transform="translate(0,806)"><rect class="c4" x="537" y="-5.5" width="10" height="11"/><text class="v" y="2.8"><tspan x="369">3</tspan><tspan x="399">3</tspan><tspan x="428">6</tspan><tspan x="457">0</tspan><tspan x="486">5</tspan><tspan x="515">6</tspan></text><text class="d" y="2.8"><tspan x="553">N25</tspan><tspan x="633">CC17</tspan><tspan x="695">61</tspan><tspan x="741">1, 13,1,1, 13,1, 1</tspan><tspan x="832">III</tspan><tspan x="877">bovine</tspan></text></g>
<g id="row-N33" transform="translate(0,820.3)"><rect class="c4" x="537" y="-5.5" width="10" height="11"/><text class="v" y="2.8"><tspan x="369">3</tspan><tspan x="399">3</tspan><tspan x="428">6</tspan><tspan x="457">0</tspan><tspan x="486">2</tspan><tspan x="515">6</tspan></text><text class="d" y="2.8"><tspan x="553">N33</tspan><tspan x="633">CC17</tspan><tspan x="695">310</tspan><tspan x="741">1, 13,1,1, 13,1, 9</tspan><tspan x="832">III</tspan><tspan x="877">bovine</tspan></text></g>
<g id="row-N08" transform="translate(0,834.5)"><rect class="c4" x="537" y="-5.5" width="10" height="11"/><text class="v" y="2.8"><tspan x="369">3</tspan><tspan x="399">3</tspan><tspan x="428">6</tspan><tspan x="457">15</tspan><tspan x="486">2</tspan><tspan x="515">6</tspan></text><text class="d" y="2.8"><tspan x="553">N08</tspan><tspan x="633">CC17</tspan><tspan x="695">64</tspan><tspan x="741">1, 13,1,1, 2,1, 1</tspan><tspan x="832">II</tspan><tspan x="877">bovine</tspan></text></g>
<g id="row-N02" transform="translate(0,848.8)"><rect class="c5" x="537" y="-5.5" width="10" height="11"/><text class="v" y="2.8"><tspan x="369">3</tspan><tspan x="399">3</tspan><tspan x="428">6</tspan><tspan x="457">15</tspan><tspan x="486">4</tspan><tspan x="515">4</tspan></text><text class="d" y="2.8"><tspan x="553">N02</tspan><tspan x="633">CC17</tspan><tspan x="695">301</tspan><tspan x="741">5, 13,1,1, 13,1, 28</tspan><tspan x="832">II</tspan><tspan x="877">bovine</tspan></text></g>
<g id="row-N17" transform="translate(0,863.1)"><rect class="c5" x="537" y="-5.5" width="10" height="11"/><text class="v" y="2.8"><tspan x="369">3</tspan><tspan x="399">3</tspan><tspan x="428">6</tspan><tspan x="457">15</tspan><tspan x="486">4</tspan><tspan x="515">3</tspan></text><text class="d" y="2.8"><tspan x="553">N17</tspan><tspan x="633">CC17</tspan><tspan x="695">301</tspan><tspan x="741">5, 13,1,1, 13,1, 28</tspan><tspan x="832">II</tspan><tspan x="877">bovine</tspan></text></g>
<g id="row-N40" transform="translate(0,877.3)"><rect class="c5" x="537" y="-5.5" width="10" height="11"/><text class="v" y="2.8"><tspan x="369">3</tspan><tspan x="399">3</tspan><tspan x="428">6</tspan><tspan x="457">0</tspan><tspan x="486">4</tspan><tspan x="515">4</tspan></text><text class="d" y="2.8"><tspan x="553">N40</tspan><tspan x="633">CC17</tspan><tspan x="695">301</tspan><tspan x="741">5, 13,1,1, 13,1, 28</tspan><tspan x="832">NT</tspan><tspan x="877">bovine</tspan></text></g>
<g id="row-N19" transform="translate(0,891.6)"><rect class="c5" x="537" y="-5.5" width="10" height="11"/><text class="v" y="2.8"><tspan x="369">3</tspan><tspan x="399">3</tspan><tspan x="428">6</tspan><tspan x="457">15</tspan><tspan x="486">7</tspan><tspan x="515">2</tspan></text><text class="d" y="2.8"><tspan x="553">N19</tspan><tspan x="633">CC17</tspan><tspan x="695">61</tspan><tspan x="741">1, 13,1,1, 13,1, 1</tspan><tspan x="832">NT</tspan><tspan x="877">bovine</tspan></text></g>
<g id="row-N39" transform="translate(0,905.9)"><rect class="c5" x="537" y="-5.5" width="10" height="11"/><text class="v" y="2.8"><tspan x="369">3</tspan><tspan x="399">3</tspan><tspan x="428">6</tspan><tspan x="457">15</tspan><tspan x="486">7</tspan><tspan x="515">2</tspan></text><text class="d" y="2.8"><tspan x="553">N39</tspan><tspan x="633">CC17</tspan><tspan x="695">61</tspan><tspan x="741">1, 13,1,1, 13,1, 1</tspan><tspan x="832">NT</tspan><tspan x="877">bovine</tspan></text></g>
<g id="row-N32" transform="translate(0,920.2)"><rect class="c5" x="537" y="-5.5" width="10" height="11"/><text class="v" y="2.8"><tspan x="369">3</tspan><tspan x="399">3</tspan><tspan x="428">3</tspan><tspan x="457">9</tspan><tspan x="486">4</tspan><tspan x="515">4</tspan></text><text class="d" y="2.8"><tspan x="553">N32</tspan><tspan x="633">Other</tspan><tspan x="695">85</tspan><tspan x="741">5, 13,1,17, 15,1, 1</tspan><tspan x="832">NT</tspan><tspan x="877">bovine</tspan></text></g>
<g id="row-N13" transform="translate(0,934.4)"><text class="v" y="2.8"><tspan x="369">3</tspan><tspan x="399">3</tspan><tspan x="428">5</tspan><tspan x="457">8</tspan><tspan x="486">4</tspan><tspan x="515">4</tspan></text><text class="d" y="2.8"><tspan x="553">N13</tspan><tspan x="633">CC17</tspan><tspan x="695">67</tspan><tspan x="741">5, 13,1,1, 13,1, 1</tspan><tspan x="832">NT</tspan><tspan x="877">bovine</tspan></text></g>
<g id="row-N16" transform="translate(0,948.7)"><text class="v" y="2.8"><tspan x="369">3</tspan><tspan x="399">3</tspan><tspan x="428">5</tspan><tspan x="457">8</tspan><tspan x="486">2</tspan><tspan x="515">3</tspan></text><text class="d" y="2.8"><tspan x="553">N16</tspan><tspan x="633">CC17</tspan><tspan x="695">67</tspan><tspan x="741">5, 13,1,1, 13,1, 1</tspan><tspan x="832">NT</tspan><tspan x="877">bovine</tspan></text></g>
<g id="row-N14" transform="translate(0,963)"><rect class="c6" x="537" y="-5.5" width="10" height="11"/><text class="v" y="2.8"><tspan x="369">3</tspan><tspan x="399">3</tspan><tspan x="428">3</tspan><tspan x="457">10</tspan><tspan x="486">0</tspan><tspan x="515">6</tspan></text><text class="d" y="2.8"><tspan x="553">N14</tspan><tspan x="633">CC19</tspan><tspan x="695">250</tspan><tspan x="741">2, 1,1,3, 1,12, 2</tspan><tspan x="832">NT</tspan><tspan x="877">bovine</tspan></text></g>
<g id="row-N28" transform="translate(0,977.2)"><rect class="c6" x="537" y="-5.5" width="10" height="11"/><text class="v" y="2.8"><tspan x="369">3</tspan><tspan x="399">3</tspan><tspan x="428">3</tspan><tspan x="457">10</tspan><tspan x="486">0</tspan><tspan x="515">6</tspan></text><text class="d" y="2.8"><tspan x="553">N28</tspan><tspan x="633">CC19</tspan><tspan x="695">250</tspan><tspan x="741">2, 1,1,3, 1,12, 2</tspan><tspan x="832">NT</tspan><tspan x="877">bovine</tspan></text></g>
<g id="row-N15" transform="translate(0,991.5)"><rect class="c6" x="537" y="-5.5" width="10" height="11"/><text class="v" y="2.8"><tspan x="369">3</tspan><tspan x="399">3</tspan><tspan x="428">3</tspan><tspan x="457">10</tspan><tspan x="486">6</tspan><tspan x="515">6</tspan></text><text class="d" y="2.8"><tspan x="553">N15</tspan><tspan x="633">CC19</tspan><tspan x="695">250</tspan><tspan x="741">2, 1,1,3, 1,12, 2</tspan><tspan x="832">NT</tspan><tspan x="877">bovine</tspan></text></g>
<g id="row-N24" transform="translate(0,1005.8)"><rect class="c6" x="537" y="-5.5" width="10" height="11"/><text class="v" y="2.8"><tspan x="369">3</tspan><tspan x="399">3</tspan><tspan x="428">3</tspan><tspan x="457">10</tspan><tspan x="486">0</tspan><tspan x="515">0</tspan></text><text class="d" y="2.8"><tspan x="553">N24</tspan><tspan x="633">CC19</tspan><tspan x="695">306</tspan><tspan x="741">1, 1,1,3, 1,12, 2</tspan><tspan x="832">NT</tspan><tspan x="877">bovine</tspan></text></g>
<g id="row-V-CNR-204" transform="translate(0,1020)"><rect class="c6" x="537" y="-5.5" width="10" height="11"/><text class="v" y="2.8"><tspan x="369">3</tspan><tspan x="399">3</tspan><tspan x="428">3</tspan><tspan x="457">10</tspan><tspan x="486">35</tspan><tspan x="515">5</tspan></text><text class="d" y="2.8"><tspan x="553">V-CNR-204</tspan><tspan x="633">CC19</tspan><tspan x="695">1</tspan><tspan x="741">2, 1,1,2, 1,1, 2</tspan><tspan x="832">V</tspan><tspan x="877">Vaginal carriage</tspan></text></g>
<g id="row-V-CNR-141" transform="translate(0,1034.3)"><rect class="c6" x="537" y="-5.5" width="10" height="11"/><text class="v" y="2.8"><tspan x="369">3</tspan><tspan x="399">3</tspan><tspan x="428">3</tspan><tspan x="457">10</tspan><tspan x="486">7</tspan><tspan x="515">3</tspan></text><text class="d" y="2.8"><tspan x="553">V-CNR-141</tspan><tspan x="633">CC19</tspan><tspan x="695">1</tspan><tspan x="741">2, 1,1,2, 1,1, 2</tspan><tspan x="832">V</tspan><tspan x="877">Vaginal carriage</tspan></text></g>
<g id="row-V-CNR-54" transform="translate(0,1048.6)"><rect class="c6" x="537" y="-5.5" width="10" height="11"/><text class="v" y="2.8"><tspan x="369">3</tspan><tspan x="399">3</tspan><tspan x="428">3</tspan><tspan x="457">10</tspan><tspan x="486">7</tspan><tspan x="515">3</tspan></text><text class="d" y="2.8"><tspan x="553">V-CNR-54</tspan><tspan x="633">CC19</tspan><tspan x="695">1</tspan><tspan x="741">2, 1,1,2, 1,1, 2</tspan><tspan x="832">V</tspan><tspan x="877">Vaginal carriage</tspan></text></g>
<g id="row-V-CNR-128" transform="translate(0,1062.9)"><rect class="c6" x="537" y="-5.5" width="10" height="11"/><text class="v" y="2.8"><tspan x="369">3</tspan><tspan x="399">3</tspan><tspan x="428">3</tspan><tspan x="457">10</tspan><tspan x="486">28</tspan><tspan x="515">3</tspan></text><text class="d" y="2.8"><tspan x="553">V-CNR-128</tspan><tspan x="633">CC19</tspan><tspan x="695">1</tspan><tspan x="741">2, 1,1,2, 1,1, 2</tspan><tspan x="832">V</tspan><tspan x="877">Vaginal carriage</tspan></text></g>
<g id="row-V-CNR-359" transform="translate(0,1077.1)"><rect class="c6" x="537" y="-5.5" width="10" height="11"/><text class="v" y="2.8"><tspan x="369">3</tspan><tspan x="399">3</tspan><tspan x="428">3</tspan><tspan x="457">10</tspan><tspan x="486">28</tspan><tspan x="515">3</tspan></text><text class="d" y="2.8"><tspan x="553">V-CNR-359</tspan><tspan x="633">CC19</tspan><tspan x="695">1</tspan><tspan x="741">2, 1,1,2, 1,1, 2</tspan><tspan x="832">V</tspan><tspan x="877">Vaginal carriage</tspan></text></g>
<g id="row-H03" transform="translate(0,1091.4)"><rect class="c6" x="537" y="-5.5" width="10" height="11"/><text class="v" y="2.8"><tspan x="369">3</tspan><tspan x="399">3</tspan><tspan x="428">3</tspan><tspan x="457">10</tspan><tspan x="486">28</tspan><tspan x="515">3</tspan></text><text class="d" y="2.8"><tspan x="553">H03</tspan><tspan x="633">CC19</tspan><tspan x="695">186</tspan><tspan x="741">5, 1,1,2, 1,1, 2</tspan><tspan x="832">NT</tspan><tspan x="877">blood</tspan></text></g>
<g id="row-H11" transform="translate(0,1105.7)"><rect class="c6" x="537" y="-5.5" width="10" height="11"/><text class="v" y="2.8"><tspan x="369">3</tspan><tspan x="399">3</tspan><tspan x="428">3</tspan><tspan x="457">10</tspan><tspan x="486">11</tspan><tspan x="515">3</tspan></text><text class="d" y="2.8"><tspan x="553">H11</tspan><tspan x="633">CC19</tspan><tspan x="695">1</tspan><tspan x="741">2, 1,1,2, 1,1, 2</tspan><tspan x="832">NT</tspan><tspan x="877">blood</tspan></text></g>
<g id="row-L-CNR-89" transform="translate(0,1119.9)"><rect class="c6" x="537" y="-5.5" width="10" height="11"/><text class="v" y="2.8"><tspan x="369">3</tspan><tspan x="399">3</tspan><tspan x="428">3</tspan><tspan x="457">10</tspan><tspan x="486">11</tspan><tspan x="515">3</tspan></text><text class="d" y="2.8"><tspan x="553">L-CNR-89</tspan><tspan x="633">CC19</tspan><tspan x="695">1</tspan><tspan x="741">2, 1,1,2, 1,1, 2</tspan><tspan x="832">V</tspan><tspan x="877">Cerebral-spinal fluid</tspan></text></g>
<g id="row-V-CNR-364" transform="translate(0,1134.2)"><rect class="c6" x="537" y="-5.5" width="10" height="11"/><text class="v" y="2.8"><tspan x="369">3</tspan><tspan x="399">3</tspan><tspan x="428">3</tspan><tspan x="457">10</tspan><tspan x="486">26</tspan><tspan x="515">3</tspan></text><text class="d" y="2.8"><tspan x="553">V-CNR-364</tspan><tspan x="633">CC19</tspan><tspan x="695">1</tspan><tspan x="741">2, 1,1,2, 1,1, 2</tspan><tspan x="832">V</tspan><tspan x="877">Vaginal carriage</tspan></text></g>
<g id="row-V-CNR-51" transform="translate(0,1148.5)"><rect class="c6" x="537" y="-5.5" width="10" height="11"/><text class="v" y="2.8"><tspan x="369">3</tspan><tspan x="399">3</tspan><tspan x="428">3</tspan><tspan x="457">10</tspan><tspan x="486">30</tspan><tspan x="515">3</tspan></text><text class="d" y="2.8"><tspan x="553">V-CNR-51</tspan><tspan x="633">CC19</tspan><tspan x="695">1</tspan><tspan x="741">2, 1,1,2, 1,1, 2</tspan><tspan x="832">V</tspan><tspan x="877">Vaginal carriage</tspan></text></g>
<g id="row-H02" transform="translate(0,1162.7)"><rect class="c6" x="537" y="-5.5" width="10" height="11"/><text class="v" y="2.8"><tspan x="369">3</tspan><tspan x="399">3</tspan><tspan x="428">3</tspan><tspan x="457">10</tspan><tspan x="486">40</tspan><tspan x="515">3</tspan></text><text class="d" y="2.8"><tspan x="553">H02</tspan><tspan x="633">CC19</tspan><tspan x="695">2</tspan><tspan x="741">2, 1,1,3, 1,1, 2</tspan><tspan x="832">NT</tspan><tspan x="877">blood</tspan></text></g>
<g id="row-V-CNR-91" transform="translate(0,1177)"><rect class="c6" x="537" y="-5.5" width="10" height="11"/><text class="v" y="2.8"><tspan x="369">3</tspan><tspan x="399">2</tspan><tspan x="428">3</tspan><tspan x="457">10</tspan><tspan x="486">7</tspan><tspan x="515">3</tspan></text><text class="d" y="2.8"><tspan x="553">V-CNR-91</tspan><tspan x="633">CC19</tspan><tspan x="695">1</tspan><tspan x="741">2, 1,1,2, 1,1, 2</tspan><tspan x="832">V</tspan><tspan x="877">Vaginal carriage</tspan></text></g>
<g id="row-V-CNR-366" transform="translate(0,1191.3)"><rect class="c6" x="537" y="-5.5" width="10" height="11"/><text class="v" y="2.8"><tspan x="369">3</tspan><tspan x="399">3</tspan><tspan x="428">3</tspan><tspan x="457">5</tspan><tspan x="486">15</tspan><tspan x="515">3</tspan></text><text class="d" y="2.8"><tspan x="553">V-CNR-366</tspan><tspan x="633">CC19</tspan><tspan x="695">19</tspan><tspan x="741">2, 1,1,3, 2,2, 2</tspan><tspan x="832">III</tspan><tspan x="877">Vaginal carriage</tspan></text></g>
<g id="row-V-CNR-240" transform="translate(0,1205.6)"><rect class="c6" x="537" y="-5.5" width="10" height="11"/><text class="v" y="2.8"><tspan x="369">3</tspan><tspan x="399">3</tspan><tspan x="428">3</tspan><tspan x="457">6</tspan><tspan x="486">15</tspan><tspan x="515">3</tspan></text><text class="d" y="2.8"><tspan x="553">V-CNR-240</tspan><tspan x="633">CC19</tspan><tspan x="695">196</tspan><tspan x="741">2, 1,1,3, 1,1, 12</tspan><tspan x="832">IV</tspan><tspan x="877">Vaginal carriage</tspan></text></g>
<g id="row-L-CNR-92" transform="translate(0,1219.8)"><rect class="c6" x="537" y="-5.5" width="10" height="11"/><text class="v" y="2.8"><tspan x="369">3</tspan><tspan x="399">3</tspan><tspan x="428">3</tspan><tspan x="457">6</tspan><tspan x="486">14</tspan><tspan x="515">3</tspan></text><text class="d" y="2.8"><tspan x="553">L-CNR-92</tspan><tspan x="633">CC10</tspan><tspan x="695">8</tspan><tspan x="741">2, 4,1,4, 1,3, 3</tspan><tspan x="832">Ib</tspan><tspan x="877">Cerebral-spinal fluid</tspan></text></g>
<g id="row-V-CNR-56" transform="translate(0,1234.1)"><rect class="c6" x="537" y="-5.5" width="10" height="11"/><text class="v" y="2.8"><tspan x="369">3</tspan><tspan x="399">3</tspan><tspan x="428">3</tspan><tspan x="457">6</tspan><tspan x="486">14</tspan><tspan x="515">3</tspan></text><text class="d" y="2.8"><tspan x="553">V-CNR-56</tspan><tspan x="633">CC19</tspan><tspan x="695">196</tspan><tspan x="741">2, 1,1,3, 1,1, 12</tspan><tspan x="832">IV</tspan><tspan x="877">Vaginal carriage</tspan></text></g>
<g id="row-V-CNR-107" transform="translate(0,1248.4)"><rect class="c6" x="537" y="-5.5" width="10" height="11"/><text class="v" y="2.8"><tspan x="369">3</tspan><tspan x="399">3</tspan><tspan x="428">3</tspan><tspan x="457">10</tspan><tspan x="486">14</tspan><tspan x="515">3</tspan></text><text class="d" y="2.8"><tspan x="553">V-CNR-107</tspan><tspan x="633">CC19</tspan><tspan x="695">1</tspan><tspan x="741">2, 1,1,2, 1,1, 2</tspan><tspan x="832">V</tspan><tspan x="877">Vaginal carriage</tspan></text></g>
<g id="row-V-CNR-235" transform="translate(0,1262.6)"><rect class="c6" x="537" y="-5.5" width="10" height="11"/><text class="v" y="2.8"><tspan x="369">3</tspan><tspan x="399">3</tspan><tspan x="428">2</tspan><tspan x="457">10</tspan><tspan x="486">19</tspan><tspan x="515">3</tspan></text><text class="d" y="2.8"><tspan x="553">V-CNR-235</tspan><tspan x="633">CC19</tspan><tspan x="695">1</tspan><tspan x="741">2, 1,1,2, 1,1, 2</tspan><tspan x="832">V</tspan><tspan x="877">Vaginal carriage</tspan></text></g>
<g id="row-V-CNR-80" transform="translate(0,1276.9)"><rect class="c6" x="537" y="-5.5" width="10" height="11"/><text class="v" y="2.8"><tspan x="369">3</tspan><tspan x="399">3</tspan><tspan x="428">3</tspan><tspan x="457">0</tspan><tspan x="486">10</tspan><tspan x="515">3</tspan></text><text class="d" y="2.8"><tspan x="553">V-CNR-80</tspan><tspan x="633">CC19</tspan><tspan x="695">2</tspan><tspan x="741">2, 1,1,3, 1,1, 2</tspan><tspan x="832">IV</tspan><tspan x="877">Vaginal carriage</tspan></text></g>
<g id="row-G61" transform="translate(0,1291.2)"><rect class="c6" x="537" y="-5.5" width="10" height="11"/><text class="v" y="2.8"><tspan x="369">3</tspan><tspan x="399">3</tspan><tspan x="428">3</tspan><tspan x="457">0</tspan><tspan x="486">16</tspan><tspan x="515">3</tspan></text><text class="d" y="2.8"><tspan x="553">G61</tspan><tspan x="633">CC19</tspan><tspan x="695">202</tspan><tspan x="741">2, 40,1,3, 1,1, 2</tspan><tspan x="832">V</tspan><tspan x="877">Gastric fluid</tspan></text></g>
<g id="row-L15" transform="translate(0,1305.5)"><rect class="c6" x="537" y="-5.5" width="10" height="11"/><text class="v" y="2.8"><tspan x="369">3</tspan><tspan x="399">3</tspan><tspan x="428">3</tspan><tspan x="457">0</tspan><tspan x="486">7</tspan><tspan x="515">4</tspan></text><text class="d" y="2.8"><tspan x="553">L15</tspan><tspan x="633">CC19</tspan><tspan x="695">196</tspan><tspan x="741">2, 1,1,3, 1,1, 12</tspan><tspan x="832">IV</tspan><tspan x="877">Cerebral-spinal fluid</tspan></text></g>
<g id="row-L-CNR-105" transform="translate(0,1319.7)"><rect class="c7" x="537" y="-5.5" width="10" height="11"/><text class="v" y="2.8"><tspan x="369">3</tspan><tspan x="399">3</tspan><tspan x="428">3</tspan><tspan x="457">5</tspan><tspan x="486">11</tspan><tspan x="515">2</tspan></text><text class="d" y="2.8"><tspan x="553">L-CNR-105</tspan><tspan x="633">CC19</tspan><tspan x="695">19</tspan><tspan x="741">2, 1,1,3, 2,2, 2</tspan><tspan x="832">III</tspan><tspan x="877">Cerebral-spinal fluid</tspan></text></g>
<g id="row-V-CNR-207" transform="translate(0,1334)"><rect class="c7" x="537" y="-5.5" width="10" height="11"/><text class="v" y="2.8"><tspan x="369">3</tspan><tspan x="399">3</tspan><tspan x="428">3</tspan><tspan x="457">5</tspan><tspan x="486">3</tspan><tspan x="515">2</tspan></text><text class="d" y="2.8"><tspan x="553">V-CNR-207</tspan><tspan x="633">CC19</tspan><tspan x="695">19</tspan><tspan x="741">2, 1,1,3, 2,2, 2</tspan><tspan x="832">III</tspan><tspan x="877">Vaginal carriage</tspan></text></g>
<g id="row-N07" transform="translate(0,1348.3)"><rect class="c7" x="537" y="-5.5" width="10" height="11"/><text class="v" y="2.8"><tspan x="369">3</tspan><tspan x="399">3</tspan><tspan x="428">3</tspan><tspan x="457">5</tspan><tspan x="486">14</tspan><tspan x="515">2</tspan></text><text class="d" y="2.8"><tspan x="553">N07</tspan><tspan x="633">CC19</tspan><tspan x="695">19</tspan><tspan x="741">2, 1,1,3, 2,2, 2</tspan><tspan x="832">III</tspan><tspan x="877">bovine</tspan></text></g>
<g id="row-V-CNR-224" transform="translate(0,1362.5)"><rect class="c7" x="537" y="-5.5" width="10" height="11"/><text class="v" y="2.8"><tspan x="369">3</tspan><tspan x="399">3</tspan><tspan x="428">1</tspan><tspan x="457">5</tspan><tspan x="486">0</tspan><tspan x="515">2</tspan></text><text class="d" y="2.8"><tspan x="553">V-CNR-224</tspan><tspan x="633">CC19</tspan><tspan x="695">28</tspan><tspan x="741">2, 1,1,3, 5,2, 2</tspan><tspan x="832">II</tspan><tspan x="877">Vaginal carriage</tspan></text></g>
<g id="row-V-CNR-272" transform="translate(0,1376.8)"><rect class="c7" x="537" y="-5.5" width="10" height="11"/><text class="v" y="2.8"><tspan x="369">3</tspan><tspan x="399">3</tspan><tspan x="428">1</tspan><tspan x="457">5</tspan><tspan x="486">0</tspan><tspan x="515">2</tspan></text><text class="d" y="2.8"><tspan x="553">V-CNR-272</tspan><tspan x="633">CC19</tspan><tspan x="695">28</tspan><tspan x="741">2, 1,1,3, 5,2, 2</tspan><tspan x="832">II</tspan><tspan x="877">Vaginal carriage</tspan></text></g>
<g id="row-V-CNR-309" transform="translate(0,1391.1)"><rect class="c7" x="537" y="-5.5" width="10" height="11"/><text class="v" y="2.8"><tspan x="369">3</tspan><tspan x="399">3</tspan><tspan x="428">1</tspan><tspan x="457">5</tspan><tspan x="486">0</tspan><tspan x="515">2</tspan></text><text class="d" y="2.8"><tspan x="553">V-CNR-309</tspan><tspan x="633">CC19</tspan><tspan x="695">28</tspan><tspan x="741">2, 1,1,3, 5,2, 2</tspan><tspan x="832">II</tspan><tspan x="877">Vaginal carriage</tspan></text></g>
<g id="row-V21" transform="translate(0,1405.3)"><rect class="c7" x="537" y="-5.5" width="10" height="11"/><text class="v" y="2.8"><tspan x="369">3</tspan><tspan x="399">3</tspan><tspan x="428">3</tspan><tspan x="457">5</tspan><tspan x="486">0</tspan><tspan x="515">2</tspan></text><text class="d" y="2.8"><tspan x="553">V21</tspan><tspan x="633">CC19</tspan><tspan x="695">19</tspan><tspan x="741">2, 1,1,3, 2,2, 2</tspan><tspan x="832">II</tspan><tspan x="877">Vaginal carriage</tspan></text></g>
<g id="row-V-CNR-306" transform="translate(0,1419.6)"><rect class="c7" x="537" y="-5.5" width="10" height="11"/><text class="v" y="2.8"><tspan x="369">3</tspan><tspan x="399">3</tspan><tspan x="428">3</tspan><tspan x="457">5</tspan><tspan x="486">0</tspan><tspan x="515">2</tspan></text><text class="d" y="2.8"><tspan x="553">V-CNR-306</tspan><tspan x="633">CC19</tspan><tspan x="695">19</tspan><tspan x="741">2, 1,1,3, 2,2, 2</tspan><tspan x="832">II</tspan><tspan x="877">Vaginal carriage</tspan></text></g>
<g id="row-V-CNR-61" transform="translate(0,1433.9)"><rect class="c7" x="537" y="-5.5" width="10" height="11"/><text class="v" y="2.8"><tspan x="369">3</tspan><tspan x="399">3</tspan><tspan x="428">3</tspan><tspan x="457">5</tspan><tspan x="486">0</tspan><tspan x="515">2</tspan></text><text class="d" y="2.8"><tspan x="553">V-CNR-61</tspan><tspan x="633">CC19</tspan><tspan x="695">19</tspan><tspan x="741">2, 1,1,3, 2,2, 2</tspan><tspan x="832">II</tspan><tspan x="877">Vaginal carriage</tspan></text></g>
</g>
<g id="caption">
<text class="cap" x="17" y="1478" textLength="1265" lengthAdjust="spacingAndGlyphs"><tspan class="capb" fill="#1f5a96">Figure 2</tspan><tspan class="capb"> MLVA clustering of the 189 strains of </tspan><tspan class="capb" font-style="italic">S. agalactiae</tspan><tspan class="capb"> by the UPGMA method, run in BioNumerics</tspan>. The names of strains (Strain Id),</text>
<text class="cap" x="17" y="1501" textLength="1265" lengthAdjust="spacingAndGlyphs">MLST clonal complex (CC), MLST sequence type (ST), MLST profile, serotype and the origin of strains are shown on the right. A cutoff value of</text>
<text class="cap" x="17" y="1524">50% similarity was applied to define MLVA clusters (named MLVA cluster 1 to MLVA cluster 9). The colors used are based on MLVA clusters.</text>
</g>
</svg>
